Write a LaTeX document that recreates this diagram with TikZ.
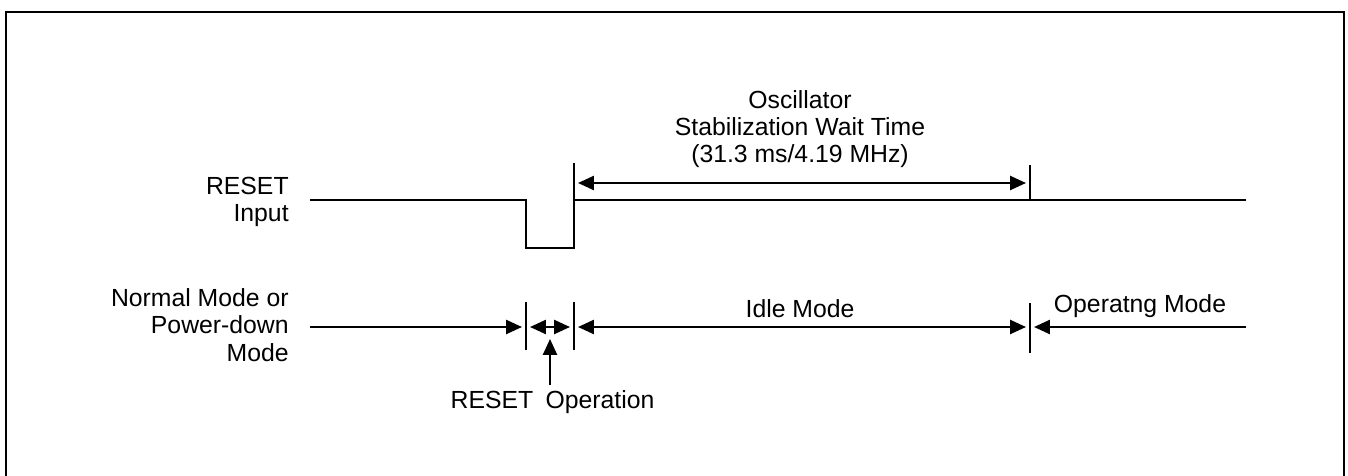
\documentclass[tikz,border=0pt]{standalone}
\usepackage{fontspec}
\setmainfont{Liberation Sans}
\usetikzlibrary{arrows.meta,positioning}
\tikzset{
  sigline/.style={line width=1.1pt,line join=miter},
  edgeline/.style={line width=1.1pt},
  framebox/.style={line width=1.2pt},
  dimarr/.style={line width=1.1pt,{Triangle[length=9pt,width=8pt]}-{Triangle[length=9pt,width=8pt]},
                 shorten <=2.3pt,shorten >=2.3pt},
  onearr/.style={line width=1.1pt,-{Triangle[length=9pt,width=8pt]},shorten >=2.3pt},
  uparr/.style={line width=1.1pt,-{Triangle[length=9pt,width=8pt]}},
  lbl/.style={font=\fontsize{14.1}{15.6}\selectfont,inner sep=0pt,align=center},
  sidelbl/.style={lbl,align=right,anchor=east}
}
\begin{document}
\begin{tikzpicture}[x=0.02cm,y=-0.02cm]
  \useasboundingbox (0,0) rectangle (1348,476);
  \draw[framebox] (6,480) |- (1344,12) -- (1344,480);

  % RESET input waveform
  \coordinate (r0) at (310,200);
  \coordinate (r1) at (526,200);
  \coordinate (r2) at (526,248);
  \coordinate (r3) at (574,248);
  \coordinate (r4) at (574,163);
  \coordinate (r5) at (1246,200);
  \coordinate (s1) at (1030,165);
  \coordinate (s2) at (1030,200);
  \draw[sigline] (r0) -- (r1) -- (r2) -- (r3) -- (r4);
  \draw[sigline] (r4|-r0) -- (r5);
  \draw[edgeline] (s1) -- (s2);
  \draw[dimarr] (r4|-0,183) -- (s1|-0,183);

  % mode row
  \coordinate (m0) at (310,327);
  \coordinate (m5) at (1246,327);
  \coordinate (b1) at (526,302);
  \coordinate (b2) at (574,302);
  \coordinate (b3) at (1030,303);
  \draw[edgeline] (b1) -- ++(0,48);
  \draw[edgeline] (b2) -- ++(0,48);
  \draw[edgeline] (b3) -- ++(0,50);
  \draw[onearr] (m0) -- (b1|-m0);
  \draw[dimarr] (b1|-m0) -- (b2|-m0);
  \draw[dimarr] (b2|-m0) -- (b3|-m0);
  \draw[onearr] (m5) -- (b3|-m0);
  \coordinate (op) at (550,385);
  \draw[uparr] (op) -- (550,339);

  % labels
  \node[lbl] (osc) at (800,129) {Oscillator\\Stabilization Wait Time\\(31.3 ms/4.19 MHz)};
  \node[sidelbl] (rin) at (289,202) {RESET\\Input};
  \node[sidelbl] (nrm) at (289,325) {Normal Mode or\\Power-down\\Mode};
  \node[lbl,anchor=base] (idle) at (800,317) {Idle Mode};
  \node[lbl,anchor=base] (opm) at (1140,312) {Operatng Mode};
  \node[lbl,anchor=base] (rst) at (492,408) {RESET};
  \node[lbl,anchor=base] (oper) at (600,408) {Operation};
\end{tikzpicture}
\end{document}
